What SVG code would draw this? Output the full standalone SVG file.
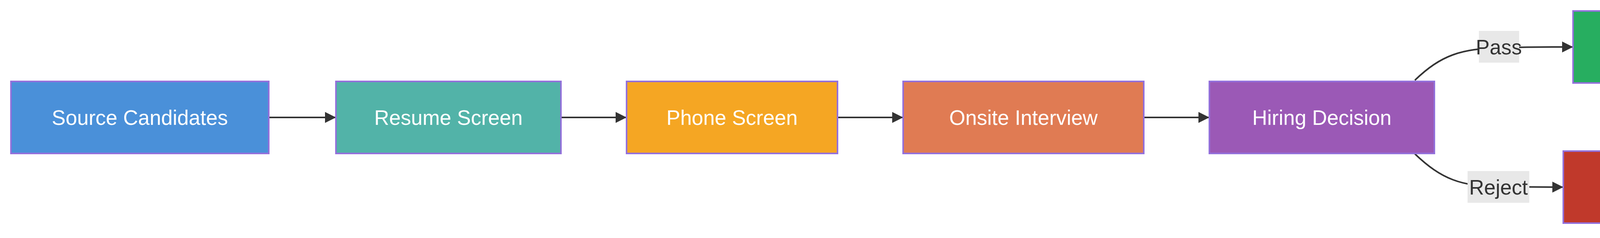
<svg xmlns="http://www.w3.org/2000/svg" width="6272" height="608" viewBox="0 0 6272 608">
<style>
.n{stroke:#9370DB;stroke-width:4}
.t{font-family:"Liberation Sans",Arial,sans-serif;font-size:53px;fill:#fff;text-anchor:middle;dominant-baseline:central}
.e{fill:none;stroke:#333;stroke-width:4}
.lb{fill:#e8e8e8}
.lt{font-family:"Liberation Sans",Arial,sans-serif;font-size:53px;fill:#333;text-anchor:middle;dominant-baseline:central}
</style>
<defs><marker id="a" viewBox="0 0 10 10" refX="10" refY="5" markerWidth="28" markerHeight="28" markerUnits="userSpaceOnUse" orient="auto"><path d="M0,0L10,5L0,10z" fill="#333"/></marker></defs>
<rect width="6272" height="608" fill="#fff"/>
<g id="edges">
<path class="e" marker-end="url(#a)" d="M688,300H860"/>
<path class="e" marker-end="url(#a)" d="M1436,300H1604"/>
<path class="e" marker-end="url(#a)" d="M2144,300H2312"/>
<path class="e" marker-end="url(#a)" d="M2928,300H3096"/>
<path class="e" marker-end="url(#a)" d="M3622,205C3690,140 3740,125 3840,122S3960,120 4027,120"/>
<path class="e" marker-end="url(#a)" d="M3622,393C3690,458 3740,476 3840,477S3960,478 4002,478"/>
<path class="e" marker-end="url(#a)" d="M4551,120H4748"/>
<path class="e" marker-end="url(#a)" d="M5352,120H5520"/>
<rect class="lb" x="3786" y="79" width="103" height="81"/>
<text class="lt" x="3837" y="120">Pass</text>
<rect class="lb" x="3757" y="437" width="158" height="81"/>
<text class="lt" x="3836" y="478">Reject</text>
</g>
<g id="source"><rect class="n" x="28" y="208" width="660" height="184" fill="#4a90d9"/><text class="t" x="358" y="300">Source Candidates</text></g>
<g id="resume"><rect class="n" x="860" y="208" width="576" height="184" fill="#52b3a8"/><text class="t" x="1148" y="300">Resume Screen</text></g>
<g id="phone"><rect class="n" x="1604" y="208" width="540" height="184" fill="#f5a623"/><text class="t" x="1874" y="300">Phone Screen</text></g>
<g id="onsite"><rect class="n" x="2312" y="208" width="616" height="184" fill="#e07b53"/><text class="t" x="2620" y="300">Onsite Interview</text></g>
<g id="hiring"><rect class="n" x="3096" y="208" width="576" height="184" fill="#9b59b6"/><text class="t" x="3384" y="300">Hiring Decision</text></g>
<g id="extend"><rect class="n" x="4027" y="28" width="524" height="184" fill="#27ae60"/><text class="t" x="4289" y="120">Extend Offer</text></g>
<g id="close"><rect class="n" x="4748" y="28" width="604" height="184" fill="#2a7fc1"/><text class="t" x="5050" y="120">Close Candidate</text></g>
<g id="onboard"><rect class="n" x="5520" y="28" width="660" height="184" fill="#16a085"/><text class="t" x="5850" y="120">Onboard New Hire</text></g>
<g id="reject"><rect class="n" x="4002" y="386" width="575" height="184" fill="#c0392b"/><text class="t" x="4289" y="478">Send Rejection</text></g>
</svg>
